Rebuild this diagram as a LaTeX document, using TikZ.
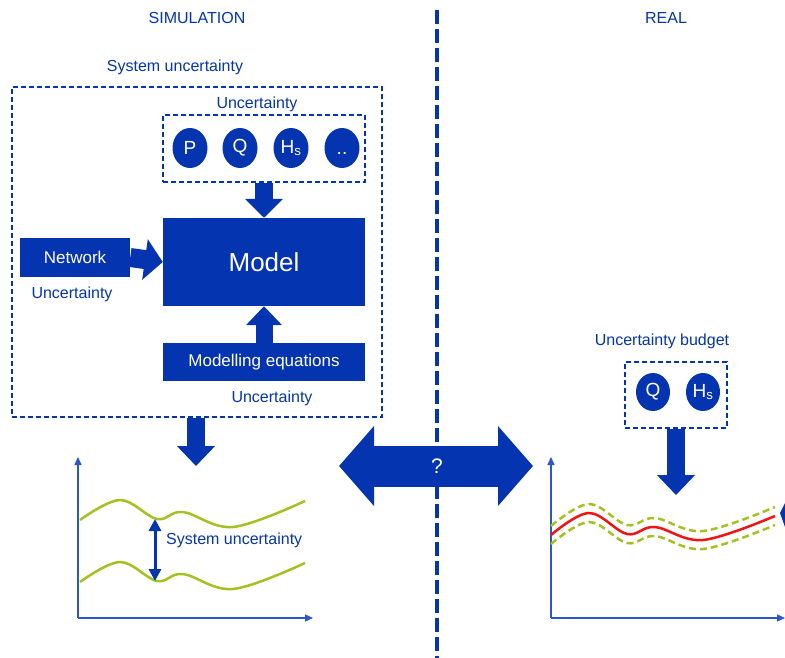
\documentclass[tikz,border=0pt]{standalone}
\usepackage{fontspec}
\setmainfont{Liberation Sans}
\usetikzlibrary{arrows.meta,shapes.geometric}
\definecolor{simblue}{RGB}{4,52,176}
\definecolor{axisblue}{RGB}{45,85,205}
\definecolor{bandgreen}{RGB}{163,193,33}
\definecolor{realred}{RGB}{240,20,20}
\tikzset{
  note/.style={text=simblue, inner sep=0pt, font=\fontsize{16}{19}\selectfont},
  box/.style={fill=simblue, text=white, inner sep=0pt, font=\fontsize{17}{20}\selectfont},
  var/.style={ellipse, fill=simblue, text=white, inner sep=0pt, minimum width=35pt,
    minimum height=40pt, font=\fontsize{19}{22}\selectfont},
  frame/.style={draw=simblue, line width=1.2pt, dash pattern=on 5pt off 3pt},
  fatarrow/.style={simblue, line width=18pt, -{Triangle[width=37pt,length=19pt]}},
  axis/.style={axisblue, line width=1.5pt, -{Triangle[width=7pt,length=8pt]}},
  band/.style={bandgreen, line width=2.5pt},
}
\begin{document}
\begin{tikzpicture}[x=1pt,y=-1pt]
  \useasboundingbox (0,0) rectangle (785,658);
  % titles and divider
  \node[note] (simtitle) at (197,18) {SIMULATION};
  \node[note] (realtitle) at (666,18) {REAL};
  \draw[simblue, line width=4pt, dash pattern=on 14pt off 5pt] (437,10) -- (437,658);
  % simulation side
  \node[note] (sysunc) at (175,67) {System uncertainty};
  \node[frame, minimum width=370pt, minimum height=330pt] (sysframe) at (197,252) {};
  \node[note] (parunc) at (257,104) {Uncertainty};
  \node[frame, minimum width=202pt, minimum height=67pt] (parframe) at (264,148.5) {};
  \node[var] (p) at (190,148) {P};
  \node[var] (q) at (240,148) {Q};
  \node[var] (hs) at (291,148) {H\textsubscript{s}};
  \node[var] (more) at (342,148) {\vphantom{P}..};
  \node[box, minimum width=202pt, minimum height=88pt, font=\fontsize{26}{30}\selectfont]
    (model) at (264,262) {Model};
  \node[box, minimum width=110pt, minimum height=39pt] (network) at (75,257.5) {Network};
  \node[note] (netunc) at (72,294) {Uncertainty};
  \node[box, minimum width=202pt, minimum height=38pt] (equations) at (264,362) {Modelling equations};
  \node[note] (equnc) at (272,398) {Uncertainty};
  \draw[fatarrow] (parframe.south) -- (model.north);
  \draw[fatarrow, line width=19pt, -{Triangle[width=40pt,length=18pt]}] (network.east) -- (model.west);
  \draw[fatarrow, line width=17pt, -{Triangle[width=35pt,length=19pt]}] (equations.north) -- (model.south);
  \coordinate (simplot) at (196,466);
  \draw[fatarrow, -{Triangle[width=37pt,length=20pt]}] (sysframe.south -| simplot) -- (simplot);
  % simulation plot
  \coordinate (lorigin) at (78,618);
  \coordinate (lytop) at (78,457);
  \coordinate (lxend) at (313,618);
  \draw[axis] (lorigin) -- (lytop);
  \draw[axis] (lorigin) -- (lxend);
  \draw[band] plot[smooth, tension=0.6] coordinates {(80,520) (120,500) (157,519) (183,512) (233,527) (305,501)};
  \draw[band, yshift=-62pt] plot[smooth, tension=0.6] coordinates {(80,520) (120,500) (157,519) (183,512) (233,527) (305,501)};
  \coordinate (bandtop) at (155,519);
  \coordinate (bandbot) at (155,581);
  \draw[simblue, line width=3pt, {Triangle[width=12pt,length=12pt]}-{Triangle[width=12pt,length=12pt]}] (bandtop) -- (bandbot);
  \node[note, anchor=west] (bandlabel) at (166,540) {System uncertainty};
  % comparison arrow
  \coordinate (qleft) at (339,466);
  \coordinate (qright) at (533,466);
  \draw[simblue, line width=41pt, {Triangle[width=78pt,length=35pt]}-{Triangle[width=78pt,length=35pt]}] (qleft) -- (qright);
  \node[text=white, font=\fontsize{21}{24}\selectfont] (query) at (437,466) {?};
  % real side
  \node[note] (budget) at (662,341) {Uncertainty budget};
  \node[frame, minimum width=102pt, minimum height=66pt] (budgetframe) at (676,395) {};
  \node[var, minimum width=34pt, minimum height=38pt] (rq) at (653,392) {Q};
  \node[var, minimum width=34pt, minimum height=38pt] (rhs) at (703,392) {H\textsubscript{s}};
  \coordinate (realplot) at (676,495);
  \draw[fatarrow, -{Triangle[width=37pt,length=20pt]}] (budgetframe.south) -- (realplot);
  % real plot
  \coordinate (rorigin) at (551,618);
  \coordinate (rytop) at (551,457);
  \coordinate (rxend) at (785,618);
  \draw[axis] (rorigin) -- (rytop);
  \draw[axis] (rorigin) -- (rxend);
  \draw[band, dash pattern=on 7pt off 4pt, yshift=9pt] plot[smooth, tension=0.6] coordinates {(551,535) (589,513) (627,534) (655,527) (703,540) (775,516)};
  \draw[band, dash pattern=on 7pt off 4pt, yshift=-9pt] plot[smooth, tension=0.6] coordinates {(551,535) (589,513) (627,534) (655,527) (703,540) (775,516)};
  \draw[realred, line width=2.5pt] plot[smooth, tension=0.6] coordinates {(551,535) (589,513) (627,534) (655,527) (703,540) (775,516)};
  \fill[simblue] (785,503) -- (780,513) -- (785,527) -- cycle;
\end{tikzpicture}
\end{document}
